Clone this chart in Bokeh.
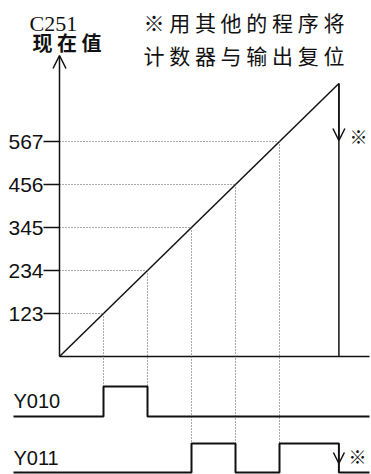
from bokeh.plotting import figure
from bokeh.models import Range1d, Arrow, OpenHead
from bokeh.core.properties import value
from bokeh.embed import file_html
from bokeh.resources import INLINE

# ---------------- data ----------------
tick_labels = ["123", "234", "345", "456", "567"]   # counter values marked on the axis
tick_steps = [1, 2, 3, 4, 5]                         # time step where the counter reaches each value
reset_step = 6.35                                    # time at which counter and outputs are reset
y010_on = [(1, 2)]                                   # Y010 ON interval(s)
y011_on = [(3, 4), (5, reset_step)]                  # Y011 ON interval(s)
signal_names = ["Y010", "Y011"]

# ---------------- layout helpers (pixel -> data) ----------------
W, H = 371, 474
X0, SX = 59.0, 44.0
Y0, SY = 356.0, 43.0
def tx(px): return (px - X0) / SX
def ly(py): return (Y0 - py) / SY

INK = "#111111"
DOT = "#555555"

p = figure(width=W, height=H, output_backend="svg", toolbar_location=None,
           x_range=Range1d(tx(0), tx(W)), y_range=Range1d(ly(H), ly(0)),
           x_axis_location=None, y_axis_location=None, min_border=0,
           outline_line_color=None, background_fill_color="white",
           border_fill_color="white")
p.xgrid.visible = False
p.ygrid.visible = False

# signal rows (low / high levels)
rows = {
    "Y010": (ly(416), ly(386)),
    "Y011": (ly(472), ly(443)),
}

# ---------------- main counter diagram ----------------
p.add_layout(Arrow(end=OpenHead(size=13, line_width=1.5, line_color=INK),
                   x_start=0, y_start=0, x_end=0, y_end=ly(55),
                   line_width=1.5, line_color=INK))
p.line([0, tx(369)], [0, 0], line_width=1.5, line_color=INK)

p.line([0, reset_step], [0, reset_step], line_width=1.5, line_color=INK)
p.line([reset_step, reset_step], [reset_step, 0], line_width=1.5, line_color=INK)
p.add_layout(Arrow(end=OpenHead(size=12, line_width=1.5, line_color=INK),
                   x_start=reset_step, y_start=reset_step, x_end=reset_step, y_end=ly(140),
                   line_width=1.5, line_color=INK))

p.segment(x0=[tx(43)] * len(tick_steps), y0=tick_steps, x1=[0] * len(tick_steps), y1=tick_steps,
          line_width=1.5, line_color=INK)
p.text(x=[tx(43)] * len(tick_steps), y=tick_steps, text=tick_labels,
       text_align="right", text_baseline="middle",
       text_font=value("Liberation Sans"), text_font_size=value("21px"), text_color=INK)

p.segment(x0=[0] * len(tick_steps), y0=tick_steps, x1=tick_steps, y1=tick_steps,
          line_width=1, line_color=DOT, line_dash="1 2")

def edge_end(t):
    for a, b in y010_on:
        if t == a:
            return rows["Y010"][0]
        if t == b:
            return rows["Y010"][1]
    return rows["Y011"][1]

p.segment(x0=tick_steps, y0=tick_steps, x1=tick_steps, y1=[edge_end(t) for t in tick_steps],
          line_width=1, line_color=DOT, line_dash="1 2")

# ---------------- timing signals ----------------
def wave(on, low, high, x_start, x_end):
    xs, ys = [x_start], [low]
    for a, b in on:
        xs += [a, a, b, b]
        ys += [low, high, high, low]
    xs.append(x_end)
    ys.append(low)
    return xs, ys

for name, on in zip(signal_names, [y010_on, y011_on]):
    low, high = rows[name]
    xs, ys = wave(on, low, high, tx(13), tx(369))
    p.line(xs, ys, line_width=2, line_color=INK)

low, high = rows["Y011"]
p.add_layout(Arrow(end=OpenHead(size=11, line_width=1.5, line_color=INK),
                   x_start=reset_step, y_start=high, x_end=reset_step, y_end=ly(463),
                   line_width=0.01, line_alpha=0))

p.text(x=[tx(13)] * 2, y=[ly(411), ly(468)], text=signal_names,
       text_align="left", text_baseline="bottom",
       text_font=value("Liberation Sans"), text_font_size=value("20px"), text_color=INK)

# ※ marks
p.text(x=[tx(358), tx(357)], y=[ly(135), ly(455)], text=["※", "※"],
       text_align="center", text_baseline="middle",
       text_font=value("Noto Sans CJK SC"), text_font_size=value("18px"), text_color=INK)

# ---------------- titles ----------------
p.text(x=[tx(29)], y=[ly(23)], text=["C251"], text_align="left", text_baseline="alphabetic",
       text_font=value("Liberation Serif"), text_font_size=value("22px"), text_color=INK)
p.text(x=[tx(32)], y=[ly(41.5)], text=["现 在 值"], text_align="left", text_baseline="middle",
       text_font=value("Noto Sans CJK SC"), text_font_size=value("20px"),
       text_font_style="bold", text_color=INK)
p.text(x=[tx(143), tx(143)], y=[ly(21), ly(54)],
       text=["※ 用 其 他 的 程 序 将", "计 数 器 与 输 出 复 位"],
       text_align="left", text_baseline="middle",
       text_font=value("Noto Sans CJK SC"), text_font_size=value("21px"), text_color=INK)

open("out.html", "w").write(file_html(p, INLINE))
